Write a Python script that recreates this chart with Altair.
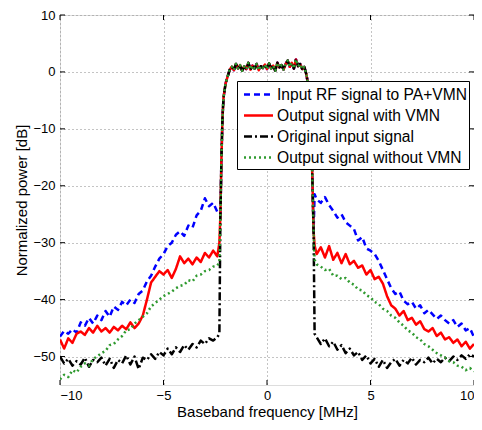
import altair as alt
import pandas as pd

series_names = [
    "Input RF signal to PA+VMN",
    "Output signal with VMN",
    "Original input signal",
    "Output signal without VMN",
]
series_colors = ["#0000ff", "#ff0000", "#000000", "#2f9a2f"]
series_dashes = [[6, 4], [1, 0], [8, 3, 2, 3], [2, 3]]
series_widths = [2.5, 2.5, 2.5, 1.0]

# frequency grid of the lower sideband (MHz)
left_f = [-10.0, -9.8, -9.6, -9.4, -9.2, -9.0, -8.8, -8.6, -8.4, -8.2,
          -8.0, -7.8, -7.6, -7.4, -7.2, -7.0, -6.8, -6.6, -6.4, -6.2,
          -6.0, -5.8, -5.6, -5.4, -5.2, -5.0, -4.8, -4.6, -4.4, -4.2,
          -4.0, -3.8, -3.6, -3.4, -3.2, -3.0, -2.8, -2.6, -2.4, -2.3]
# in-band part (common to all signals)
band_f = [-2.25, -2.2, -2.15, -2.1, -2.0, -1.9, -1.8, -1.7, -1.6, -1.5,
          -1.4, -1.3, -1.2, -1.1, -1.0, -0.9, -0.8, -0.7, -0.6, -0.5,
          -0.4, -0.3, -0.2, -0.1, 0.0, 0.1, 0.2, 0.3, 0.4, 0.5,
          0.6, 0.7, 0.8, 0.9, 1.0, 1.1, 1.2, 1.3, 1.4, 1.5,
          1.6, 1.7, 1.8, 1.9, 2.0, 2.1, 2.15, 2.2, 2.25]
band_db = [-25.0, -15.0, -8.0, -4.5, -2.0, -0.8, 0.4, 0.9, 0.3, 1.4,
           0.6, 1.2, 0.2, 1.0, 0.5, 1.6, 0.4, 1.1, 0.6, 1.4,
           0.3, 1.0, 0.7, 1.3, 0.5, 1.5, 0.6, 1.1, 0.2, 1.6,
           0.8, 1.2, 0.4, 1.4, 2.0, 0.9, 1.6, 0.6, 2.2, 1.0,
           1.4, 0.5, 0.9, -0.4, -2.5, -6.0, -12.0, -20.0, -28.0]
# upper sideband grid (MHz)
right_f = [2.3, 2.4, 2.6, 2.8, 3.0, 3.2, 3.4, 3.6, 3.8, 4.0,
           4.2, 4.4, 4.6, 4.8, 5.0, 5.2, 5.4, 5.6, 5.8, 6.0,
           6.2, 6.4, 6.6, 6.8, 7.0, 7.2, 7.4, 7.6, 7.8, 8.0,
           8.2, 8.4, 8.6, 8.8, 9.0, 9.2, 9.4, 9.6, 9.8, 10.0]

# Input RF signal to PA+VMN
blue_left = [-46.5, -45.5, -46.0, -45.2, -45.8, -44.0, -44.6, -43.2, -44.2, -42.8,
             -43.6, -42.0, -43.0, -41.2, -41.8, -40.4, -41.0, -40.0, -40.6, -39.0,
             -38.4, -36.8, -35.8, -34.2, -32.8, -32.0, -30.6, -30.0, -28.6, -28.0,
             -28.8, -27.0, -27.4, -25.2, -24.4, -22.2, -23.6, -23.0, -24.6, -25.0]
blue_right = [-21.5, -22.4, -23.0, -22.0, -23.4, -24.4, -25.6, -25.0, -26.4, -27.0,
              -27.6, -29.6, -29.0, -31.0, -31.4, -32.0, -33.2, -34.8, -36.4, -38.0,
              -39.0, -38.6, -40.2, -40.8, -40.4, -41.6, -41.0, -42.4, -41.8, -42.6,
              -43.4, -42.8, -43.6, -44.2, -43.6, -44.8, -44.2, -45.4, -45.0, -46.6]
# Output signal with VMN
red_left = [-47.0, -48.6, -46.8, -47.6, -46.0, -45.6, -46.2, -45.0, -45.8, -44.6,
            -45.6, -45.0, -45.8, -44.8, -45.4, -44.6, -45.2, -44.0, -45.0, -44.2,
            -42.8, -40.0, -37.0, -36.0, -35.0, -35.6, -34.8, -36.2, -34.6, -32.4,
            -33.6, -32.8, -33.8, -32.6, -33.4, -31.8, -32.6, -31.4, -32.4, -30.0]
red_right = [-30.5, -32.0, -30.8, -32.6, -30.6, -33.0, -31.8, -33.6, -32.0, -33.8,
             -33.2, -34.4, -34.0, -35.6, -34.8, -36.4, -36.0, -37.2, -39.4, -41.0,
             -41.6, -42.8, -42.0, -43.6, -43.2, -44.4, -43.8, -45.2, -45.6, -45.0,
             -46.4, -45.8, -47.0, -46.6, -47.6, -47.0, -48.2, -47.4, -48.6, -47.8]
# Original input signal
black_left = [-50.0, -51.2, -50.4, -51.6, -50.8, -51.4, -50.2, -51.8, -50.6, -51.0,
              -50.2, -51.6, -50.4, -52.0, -50.6, -51.2, -49.8, -51.4, -50.0, -52.2,
              -50.2, -50.6, -49.6, -50.4, -49.2, -49.8, -48.6, -49.6, -48.4, -49.2,
              -48.0, -48.8, -47.8, -48.4, -47.2, -47.8, -46.8, -47.2, -46.6, -46.0]
black_right = [-46.0, -46.6, -47.8, -46.8, -48.2, -47.4, -48.8, -48.0, -49.4, -48.6,
               -49.8, -49.2, -50.6, -49.8, -51.2, -50.4, -51.8, -50.6, -52.0, -51.0,
               -50.4, -51.6, -50.6, -51.2, -50.2, -51.4, -50.6, -51.0, -50.2, -51.2,
               -50.4, -51.0, -50.2, -50.8, -50.0, -50.6, -49.8, -50.4, -49.6, -50.0]
# Output signal without VMN
green_left = [-54.0, -53.2, -53.6, -52.4, -52.8, -51.8, -51.2, -51.6, -50.4, -50.0,
              -49.4, -49.0, -48.0, -47.8, -47.0, -46.4, -45.4, -45.2, -44.2, -43.6,
              -43.0, -42.4, -41.2, -40.6, -40.0, -39.4, -39.0, -38.6, -38.0, -37.6,
              -37.4, -36.6, -36.8, -35.8, -35.6, -35.0, -34.8, -34.2, -34.0, -33.5]
green_right = [-33.0, -33.8, -34.2, -34.8, -34.6, -35.8, -35.8, -36.4, -36.2, -37.0,
               -37.4, -38.2, -38.4, -39.2, -39.6, -40.4, -40.8, -41.6, -42.0, -42.8,
               -43.2, -44.0, -44.6, -45.4, -45.8, -46.6, -47.0, -47.8, -48.2, -48.8,
               -49.4, -49.8, -50.2, -50.8, -51.0, -51.6, -51.8, -52.4, -52.0, -52.6]

x_ticks = [-10, -5, 0, 5, 10]
y_ticks = [-50, -40, -30, -20, -10, 0, 10]

sides = [
    (blue_left, blue_right),
    (red_left, red_right),
    (black_left, black_right),
    (green_left, green_right),
]
rows = []
for name, (lo, hi) in zip(series_names, sides):
    fs = left_f + band_f + right_f
    vs = lo + band_db + hi
    for i, (f, v) in enumerate(zip(fs, vs)):
        rows.append({"series": name, "f": f, "db": v, "i": i})
df = pd.DataFrame(rows)

FONT = "Liberation Sans"
W, H = 414, 370

xscale = alt.Scale(domain=[-10, 10], nice=False, zero=False)
yscale = alt.Scale(domain=[-55, 10], nice=False, zero=False)

legend = alt.Legend(
    title=None, orient="none", legendX=177, legendY=66,
    fillColor="white", strokeColor="black", padding=2,
    symbolType="M-1.45,0H1.45", symbolSize=400, symbolOffset=8,
    labelFont=FONT, labelFontSize=15.6, labelColor="black",
    labelOffset=7, rowPadding=0, labelLimit=400,
)

lines = alt.Chart(df).mark_line(clip=True, strokeJoin="round").encode(
    x=alt.X("f:Q", scale=xscale,
            axis=alt.Axis(values=x_ticks, format="d", title="Baseband frequency [MHz]",
                          grid=True, gridDash=[1, 3], gridColor="#888888",
                          domain=False, ticks=False, labelPadding=4,
                          labelFont=FONT, labelFontSize=13, labelColor="black",
                          titleFont=FONT, titleFontSize=15, titleFontWeight="normal",
                          titleColor="black", titlePadding=2)),
    y=alt.Y("db:Q", scale=yscale,
            axis=alt.Axis(values=y_ticks, format="d", title="Normalized power [dB]",
                          grid=True, gridDash=[1, 3], gridColor="#888888",
                          domain=False, ticks=False, labelPadding=5,
                          labelFont=FONT, labelFontSize=13, labelColor="black",
                          titleFont=FONT, titleFontSize=15, titleFontWeight="normal",
                          titleColor="black", titlePadding=3)),
    color=alt.Color("series:N", scale=alt.Scale(domain=series_names, range=series_colors),
                    legend=legend),
    strokeDash=alt.StrokeDash("series:N", scale=alt.Scale(domain=series_names, range=series_dashes),
                              legend=legend),
    strokeWidth=alt.StrokeWidth("series:N", scale=alt.Scale(domain=series_names, range=series_widths),
                                legend=legend),
    order=alt.Order("i:Q"),
)

xt = pd.DataFrame({"t": x_ticks})
yt = pd.DataFrame({"t": y_ticks})
tick_len = 5
xticks_bottom = alt.Chart(xt).mark_rule(color="black", strokeWidth=1).encode(
    x=alt.X("t:Q", scale=xscale), y=alt.value(H), y2=alt.value(H - tick_len))
xticks_top = alt.Chart(xt).mark_rule(color="black", strokeWidth=1).encode(
    x=alt.X("t:Q", scale=xscale), y=alt.value(0), y2=alt.value(tick_len))
yticks_left = alt.Chart(yt).mark_rule(color="black", strokeWidth=1).encode(
    y=alt.Y("t:Q", scale=yscale), x=alt.value(0), x2=alt.value(tick_len))
yticks_right = alt.Chart(yt).mark_rule(color="black", strokeWidth=1).encode(
    y=alt.Y("t:Q", scale=yscale), x=alt.value(W), x2=alt.value(W - tick_len))

chart = alt.layer(lines, xticks_bottom, xticks_top, yticks_left, yticks_right).properties(
    width=W, height=H,
    autosize=alt.AutoSizeParams(type="none"),
    padding={"left": 52, "top": 7, "right": 0, "bottom": 37},
).configure_view(stroke="black", strokeWidth=1).configure(background="white")

chart.save("out.html", embed_options={"renderer": "svg", "actions": False})
